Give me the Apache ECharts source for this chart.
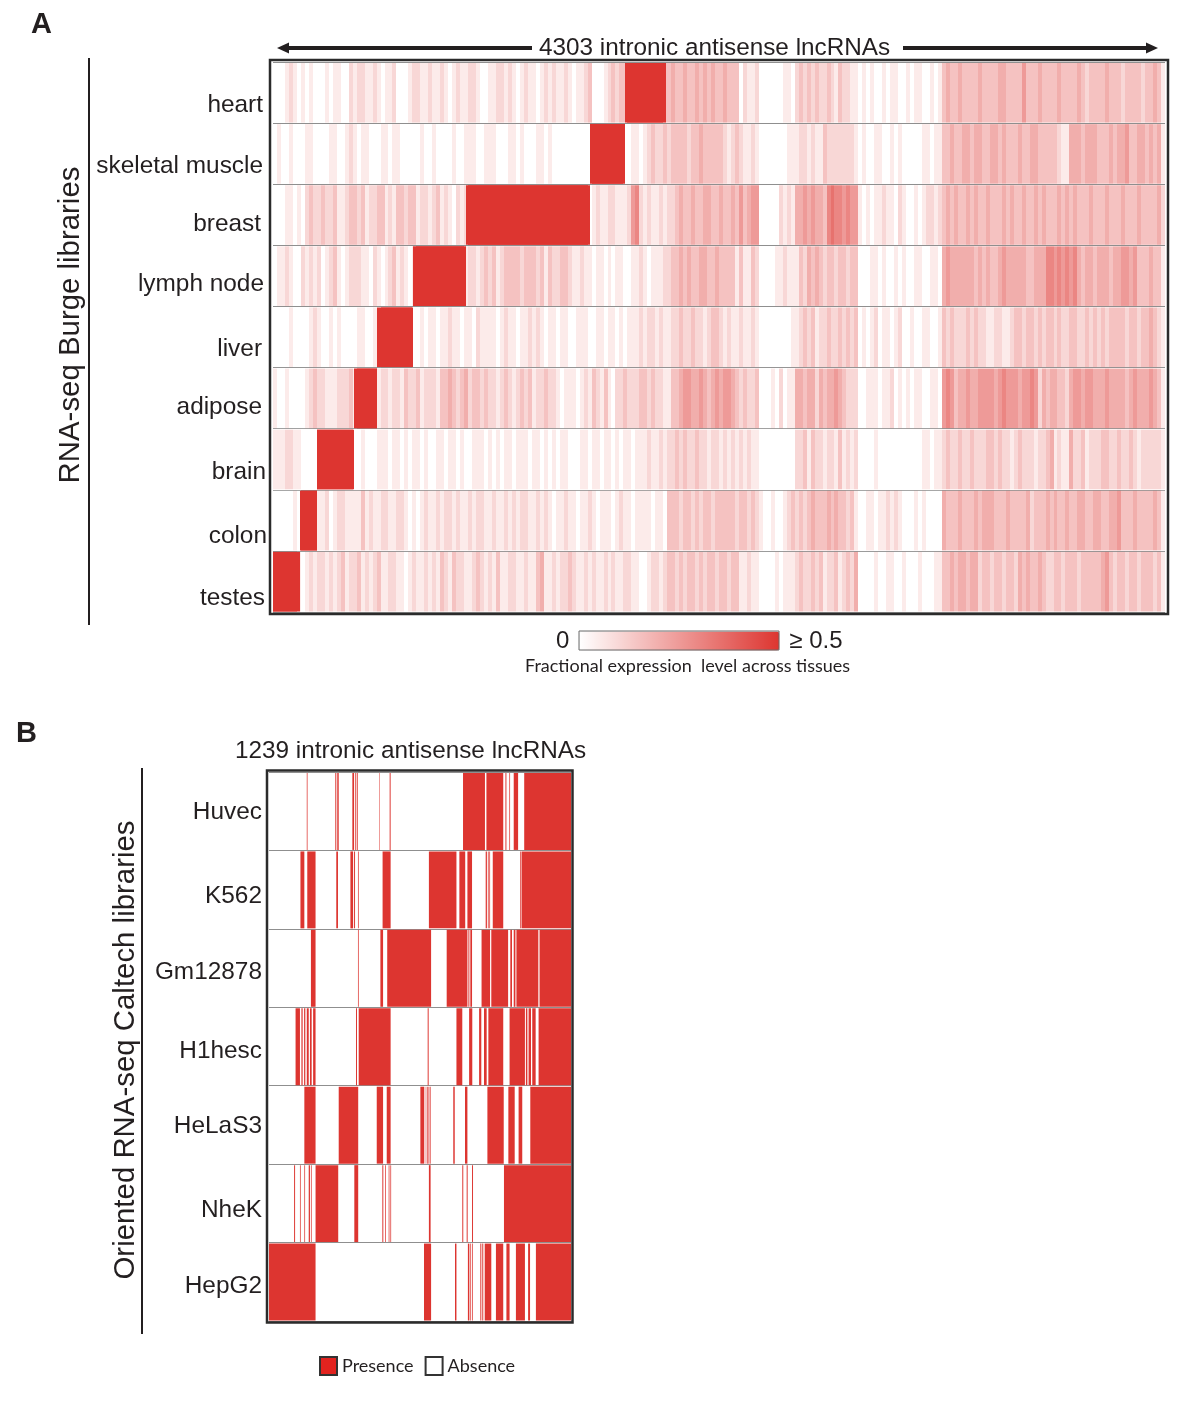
<!doctype html>
<html>
<head>
<meta charset="utf-8">
<title>Intronic antisense lncRNAs</title>
<script src="https://cdn.jsdelivr.net/npm/echarts@6/dist/echarts.min.js"></script>
<style>
body { margin: 0; background: #fff; }
#main { width: 1200px; height: 1408px; }
</style>
</head>
<body>
<div id="main"></div>
<script>
// panel A: expression level per bin, 0..10 where 10 means >= 0.5 (bins are 4303/224 lncRNAs wide)
var tissues = ['heart', 'skeletal muscle', 'breast', 'lymph node', 'liver', 'adipose', 'brain', 'colon', 'testes'];
var totalA = 4303;
var heart = [
0,0,0,1,2,1,0,1,0,1,0,0,0,1,0,1,1,0,0,2,
1,2,2,1,1,2,1,0,1,1,2,0,0,0,1,2,2,1,1,2,
1,1,2,1,0,1,2,1,1,2,2,1,0,0,1,1,2,2,1,2,
1,0,1,2,1,1,0,1,2,1,2,1,1,2,1,0,1,1,2,3,
0,0,0,1,2,3,2,3,3,10,10,10,10,10,10,10,10,10,3,3,
4,3,3,4,3,3,4,3,4,3,4,3,3,4,3,3,3,0,2,1,
1,2,0,0,0,0,0,0,1,1,0,2,3,2,3,2,3,2,2,3,
2,1,3,2,2,1,1,0,1,0,1,0,0,1,0,1,1,0,0,1,
0,1,1,0,0,1,0,1,3,4,3,3,4,3,3,3,3,4,3,3,
3,3,4,4,3,3,3,3,5,3,3,3,4,3,3,3,3,4,3,3,
3,3,4,3,2,3,3,3,3,4,3,3,3,2,3,3,3,3,2,3,
3,4,3,1];
var skeletalMuscle = [
0,1,0,0,1,0,0,0,1,1,0,0,0,0,1,1,0,0,1,2,
1,0,1,1,0,0,0,1,1,0,1,1,0,0,0,0,0,1,0,0,
1,0,0,0,0,1,0,0,1,1,1,0,0,1,1,1,0,0,0,1,
1,0,1,0,0,0,1,1,0,1,0,0,0,0,0,0,0,0,0,0,
10,10,10,10,10,10,10,10,0,0,1,1,0,1,2,3,2,2,3,2,
3,3,3,3,2,3,3,4,3,3,3,3,3,2,1,2,3,2,1,1,
2,1,0,0,0,0,0,0,0,1,1,1,2,2,1,2,1,1,3,2,
2,2,2,2,2,2,1,0,1,0,0,1,1,0,0,1,0,1,0,0,
0,0,0,1,1,0,1,1,3,3,4,3,3,4,4,3,4,4,3,3,
4,4,3,4,3,3,3,4,3,3,4,4,3,3,3,3,3,2,1,1,
4,4,4,3,4,4,4,3,3,3,4,3,4,4,5,3,3,4,4,3,
4,3,4,1];
var breast = [
0,0,0,1,1,0,1,0,2,3,2,2,3,2,2,3,1,1,2,3,
3,2,3,1,2,2,3,3,1,2,1,3,3,2,3,3,1,2,2,1,
2,3,1,2,1,0,2,1,2,10,10,10,10,10,10,10,10,10,10,10,
10,10,10,10,10,10,10,10,10,10,10,10,10,10,10,10,10,10,10,0,
1,2,1,1,2,2,1,1,1,2,5,6,2,1,2,1,1,2,1,2,
2,3,4,3,3,4,3,3,4,4,3,3,4,3,3,4,3,5,3,4,
5,5,0,0,0,0,0,2,1,2,1,4,4,5,4,5,4,4,3,6,
7,6,6,5,6,5,5,1,0,1,0,1,1,2,1,1,0,2,1,0,
0,1,0,1,2,2,1,2,3,4,3,4,3,3,4,3,4,3,3,4,
3,3,3,4,3,4,3,3,4,3,3,4,3,4,3,3,3,4,3,4,
3,4,3,3,3,4,3,3,3,4,3,3,3,4,3,3,3,4,3,3,
3,3,4,2];
var lymphNode = [
0,1,1,2,1,0,0,2,1,2,1,2,0,1,2,3,1,0,1,2,
2,2,1,1,0,2,1,0,1,2,3,1,2,1,0,1,10,10,10,10,
10,10,10,10,10,10,10,10,1,2,2,1,2,3,2,3,1,2,3,3,
3,3,2,3,3,3,2,3,1,3,2,2,3,3,2,1,1,2,1,1,
0,1,1,0,1,0,1,1,0,0,1,1,2,1,0,1,1,1,2,2,
3,3,4,3,4,3,3,4,4,3,3,4,3,3,3,3,1,3,1,1,
3,2,0,0,0,0,1,1,2,1,1,1,3,2,4,3,4,3,2,3,
3,2,3,3,2,3,3,0,0,0,1,1,0,1,0,0,1,0,1,0,
0,1,1,0,0,1,1,0,4,5,4,4,4,4,4,4,3,4,3,4,
3,3,4,5,4,4,4,4,4,3,3,4,4,4,6,6,5,6,5,6,
5,6,4,3,4,4,3,4,4,4,3,4,4,5,5,4,5,3,3,3,
4,3,3,1];
var liver = [
0,0,0,0,1,0,0,0,0,1,2,1,0,0,1,0,1,0,0,0,
0,1,1,0,0,1,0,10,10,10,10,10,10,10,10,0,0,1,0,1,
1,0,1,1,2,1,1,0,1,1,0,2,1,1,1,1,0,1,2,1,
1,0,1,1,2,1,2,1,0,1,1,0,1,1,0,0,1,1,1,0,
0,1,1,0,1,1,0,1,0,1,1,1,2,1,2,2,1,2,1,1,
2,2,3,2,2,3,2,2,1,2,3,3,2,1,2,1,1,2,1,1,
2,1,0,0,0,0,0,0,0,0,1,1,2,3,2,3,1,2,2,3,
2,2,3,2,3,2,3,0,1,0,1,2,0,1,1,0,1,2,0,0,
1,0,0,1,1,0,0,1,3,2,3,2,2,2,3,2,3,2,2,1,
1,2,2,1,1,2,3,3,2,3,3,2,3,2,3,3,2,3,2,2,
3,3,2,2,3,2,3,2,3,2,3,3,3,3,2,3,3,2,3,3,
4,3,2,1];
var adipose = [
1,0,0,1,0,0,0,0,1,2,3,2,2,1,1,1,2,2,2,3,
1,10,10,10,10,10,1,2,2,1,2,2,1,3,2,2,3,1,2,2,
2,1,3,3,4,3,2,3,4,2,3,3,2,3,2,2,1,2,3,2,
1,2,3,2,3,1,2,2,3,2,2,1,0,1,1,1,0,1,2,1,
3,2,1,3,1,0,2,2,3,2,2,2,3,3,2,3,2,2,1,1,
3,3,4,5,5,4,4,5,4,3,4,5,4,5,5,4,3,2,3,2,
2,3,0,0,0,1,0,2,0,1,1,4,4,3,4,4,2,4,3,4,
4,5,4,3,2,2,2,0,0,1,1,1,0,1,1,2,0,1,0,1,
0,1,1,0,0,1,1,0,5,6,5,3,4,4,5,4,4,5,5,5,
5,4,5,6,5,5,5,4,5,5,6,5,2,4,3,4,4,3,3,2,
4,5,5,4,5,5,4,4,4,5,4,4,4,4,3,4,5,4,4,4,
5,4,3,1];
var brain = [
1,1,1,2,2,1,1,0,0,0,0,10,10,10,10,10,10,10,10,10,
0,0,1,0,0,0,1,1,1,0,1,1,0,1,0,1,1,0,1,0,
0,1,1,0,1,1,0,1,0,0,1,1,1,0,1,0,1,0,1,1,
0,1,1,1,0,1,1,0,1,0,1,0,1,1,0,0,0,1,1,0,
1,1,0,1,1,0,1,0,1,1,0,1,1,1,2,1,1,2,1,2,
2,3,2,3,2,2,3,2,2,1,2,2,1,2,1,2,1,2,1,2,
1,1,0,0,0,0,0,0,0,0,0,2,2,3,1,3,2,2,1,2,
2,1,3,1,2,1,2,0,0,0,0,1,0,0,0,0,0,0,0,0,
0,0,0,1,1,0,1,1,2,3,2,2,3,2,2,3,2,2,2,3,
3,2,3,2,2,1,2,3,2,2,2,1,2,2,3,4,1,2,1,1,
4,2,2,3,1,2,2,2,3,3,2,2,3,2,2,3,2,1,2,2,
2,2,2,1];
var colon = [
0,0,0,0,0,1,0,10,10,10,10,1,1,2,0,1,2,2,1,1,
1,1,3,1,2,1,1,2,2,1,1,2,2,1,0,1,0,1,2,1,
1,2,1,2,2,1,2,1,1,2,1,2,2,1,1,2,1,1,2,1,
2,1,2,2,1,1,2,1,2,1,0,1,1,2,1,1,0,1,1,2,
1,0,1,1,1,0,1,2,1,1,0,1,1,1,1,0,1,1,0,3,
3,3,2,3,3,2,3,2,3,3,2,3,3,3,3,3,2,3,3,2,
3,2,1,0,0,1,0,0,1,2,3,2,3,2,3,4,3,3,3,4,
3,4,3,3,2,3,1,0,0,1,1,0,1,1,2,1,2,1,0,0,
0,1,0,1,0,0,0,0,4,3,3,3,4,3,3,3,4,3,4,4,
4,3,3,3,4,3,3,3,3,4,2,3,3,3,4,3,4,3,3,4,
3,3,4,4,3,3,4,4,3,3,4,4,5,3,3,3,4,3,3,3,
3,4,3,1];
var testes = [
10,10,10,10,10,10,1,0,1,2,1,2,2,1,2,1,2,3,1,2,
2,3,1,2,1,2,3,1,1,2,2,1,1,0,1,2,1,1,2,1,
2,1,3,2,1,3,2,2,1,1,2,3,2,1,2,1,3,1,1,2,
2,1,1,2,1,1,3,4,1,1,2,1,2,2,3,2,1,1,2,1,
2,1,1,2,1,2,1,1,2,2,1,1,0,0,1,2,2,1,2,3,
3,2,3,2,3,3,2,3,2,3,3,2,3,3,2,3,3,1,1,2,
1,1,0,0,0,0,1,0,1,1,1,2,3,2,2,3,2,3,1,2,
2,3,1,2,3,2,4,0,0,0,0,1,0,0,1,1,0,0,1,0,
0,0,1,0,0,0,1,1,3,3,4,3,4,4,3,4,4,2,3,3,
2,3,3,2,3,3,2,4,3,4,3,3,4,3,2,2,3,3,2,3,
3,3,2,3,3,3,3,3,4,5,3,2,3,3,2,3,3,2,3,3,
3,2,3,1];
var tissueLevels = [heart, skeletalMuscle, breast, lymphNode, liver, adipose, brain, colon, testes];
// range of lncRNAs specific to each tissue (the red staircase)
var tissuePeaks = [[1698, 1896], [1529, 1698], [931, 1529], [675, 931], [502, 675], [391, 502], [212, 391], [130, 212], [0, 130]];

// panel B: stretches of lncRNAs present in each cell line
var cellLines = ['Huvec', 'K562', 'Gm12878', 'H1hesc', 'HeLaS3', 'NheK', 'HepG2'];
var totalB = 1239;
var huvec = [[155,158],[272,276],[279,282],[283,286],[342,349],[354,357],[360,364],[453,455],[495,499],[796,886],[892,961],[970,974],[986,989],[1004,1022],[1047,1239]];
var k562 = [[129,145],[157,191],[276,283],[334,345],[349,353],[365,368],[466,499],[656,769],[781,805],[814,833],[889,894],[898,901],[904,907],[918,961],[1030,1033],[1036,1239]];
var gm12878 = [[172,191],[365,368],[457,468],[485,665],[729,814],[818,822],[826,833],[872,907],[912,981],[990,997],[1004,1011],[1015,1105],[1110,1239]];
var h1hesc = [[109,127],[133,138],[144,149],[155,163],[168,175],[181,191],[357,361],[368,499],[651,655],[769,793],[821,834],[862,871],[882,893],[900,961],[987,1050],[1054,1060],[1065,1075],[1080,1094],[1106,1239]];
var helas3 = [[145,191],[286,366],[442,468],[483,499],[621,637],[643,645],[648,651],[654,656],[659,663],[756,762],[804,814],[896,963],[982,1008],[1024,1039],[1072,1239]];
var nhek = [[103,107],[127,130],[145,148],[163,168],[172,175],[191,284],[350,366],[465,469],[477,480],[491,494],[498,501],[656,663],[793,797],[811,815],[833,837],[964,1239]];
var hepg2 = [[0,191],[636,665],[763,769],[816,822],[826,829],[833,836],[867,871],[875,879],[885,912],[931,961],[974,987],[1013,1050],[1063,1071],[1095,1239]];
var cellPresence = [huvec, k562, gm12878, h1hesc, helas3, nhek, hepg2];

var sans = '"Liberation Sans", Arial, sans-serif';
var ink = '#231f20';
var red = '#dd3530';

// label nudges, [down, left] px, the source figure has them placed by hand
var tissueNudge = [[13,9],[13,9],[10,11],[8,8],[12,10],[9,10],[13,6],[16,5],[17,7]];
var cellNudge = [[1,0],[7,0],[4,0],[5,0],[1,0],[7,0],[4,0]];

var heatData = [];
var step = totalA / 224;
tissueLevels.forEach(function (levels, r) {
    levels.forEach(function (v, i) {
        heatData.push([i * step, (i + 1) * step, r, v]);
    });
    heatData.push([tissuePeaks[r][0], tissuePeaks[r][1], r, 10]);
});

var presenceData = [];
cellPresence.forEach(function (runs, r) {
    runs.forEach(function (run) {
        presenceData.push([run[0], run[1], r]);
    });
});

function renderHeat(params, api) {
    var a = api.coord([api.value(0), api.value(2)]);
    var b = api.coord([api.value(1), api.value(2)]);
    var h = api.size([0, 1])[1];
    var x0 = Math.round(a[0]), x1 = Math.round(b[0]);
    return {
        type: 'rect',
        shape: { x: x0, y: a[1] - h / 2 + 1, width: x1 - x0, height: h - 1.5 },
        style: { fill: api.visual('color') }
    };
}

function renderPresence(params, api) {
    var a = api.coord([api.value(0), api.value(2)]);
    var b = api.coord([api.value(1), api.value(2)]);
    var h = api.size([0, 1])[1];
    return {
        type: 'rect',
        shape: { x: a[0], y: a[1] - h / 2 + 1, width: b[0] - a[0], height: h - 1.5 },
        style: { fill: red }
    };
}

function bandAxis(gridIndex, names, nudge, name, nameGap, namePadding, margin) {
    return {
        type: 'category',
        gridIndex: gridIndex,
        inverse: true,
        data: names.map(function (n, i) {
            var d = nudge[i][0];
            return {
                value: n,
                textStyle: {
                    verticalAlign: d >= 0 ? 'top' : 'bottom',
                    lineHeight: 2 * Math.abs(d),
                    padding: [0, nudge[i][1], 0, 0]
                }
            };
        }),
        axisLine: { show: false },
        axisTick: { show: false },
        axisLabel: { margin: margin, fontFamily: sans, fontSize: 24.4, color: ink },
        splitLine: { show: true, lineStyle: { color: '#8f8f8f', width: 1 } },
        name: name,
        nameLocation: 'middle',
        nameRotate: 90,
        nameGap: nameGap,
        nameTextStyle: { fontFamily: sans, fontSize: 29.4, color: ink, padding: namePadding }
    };
}

function arrow(x0, x1, y, dir) {
    var tip = dir < 0 ? x0 : x1;
    return [
        { type: 'line', shape: { x1: x0 + (dir < 0 ? 8 : 0), y1: y, x2: x1 - (dir > 0 ? 8 : 0), y2: y }, style: { stroke: ink, lineWidth: 4 } },
        { type: 'polygon', shape: { points: [[tip, y], [tip - dir * 12, y - 5.5], [tip - dir * 12, y + 5.5]] }, style: { fill: ink } }
    ];
}

var chart = echarts.init(document.getElementById('main'));
chart.setOption({
    animation: false,
    backgroundColor: '#fff',
    title: [
        { text: 'A', left: 26, top: 5, textStyle: { fontFamily: sans, fontSize: 29, fontWeight: 'bold', color: ink } },
        { text: 'B', left: 11, top: 714, textStyle: { fontFamily: sans, fontSize: 29, fontWeight: 'bold', color: ink } },
        { text: '4303 intronic antisense lncRNAs', left: 534, top: 31, textStyle: { fontFamily: sans, fontSize: 24.3, fontWeight: 'normal', color: ink } },
        { text: '1239 intronic antisense lncRNAs', left: 230, top: 734, textStyle: { fontFamily: sans, fontSize: 24.3, fontWeight: 'normal', color: ink } },
        { text: 'Fractional expression  level across tissues', left: 520, top: 652, textStyle: { fontFamily: 'Lato', fontSize: 18, fontWeight: 'normal', color: ink } }
    ],
    grid: [
        { left: 273, top: 62, width: 892, height: 550 },
        { left: 269, top: 772, width: 302, height: 549 }
    ],
    xAxis: [
        { type: 'value', gridIndex: 0, min: 0, max: totalA, show: false },
        { type: 'value', gridIndex: 1, min: 0, max: totalB, show: false }
    ],
    yAxis: [
        bandAxis(0, tissues, tissueNudge, 'RNA-seq Burge libraries', 184, [0, 0, 0, 24], 1),
        bandAxis(1, cellLines, cellNudge, 'Oriented RNA-seq Caltech libraries', 129, [0, 7, 0, 0], 7)
    ],
    visualMap: {
        type: 'continuous',
        seriesIndex: 0,
        dimension: 3,
        min: 0,
        max: 10,
        orient: 'horizontal',
        left: 541,
        top: 614,
        itemWidth: 19,
        itemHeight: 200,
        textGap: 10,
        text: ['\u2265 0.5', '0'],
        textStyle: { fontFamily: sans, fontSize: 24, color: ink },
        inRange: { color: ['#ffffff', red] },
        hoverLink: false
    },
    legend: {
        left: 314,
        top: 1351,
        itemWidth: 17,
        itemHeight: 18,
        itemGap: 11,
        icon: 'rect',
        textStyle: { fontFamily: 'Lato', fontSize: 18, color: ink },
        data: [
            { name: 'Presence', itemStyle: { color: '#e2231f', borderColor: '#333', borderWidth: 2 } },
            { name: 'Absence', itemStyle: { color: '#fff', borderColor: '#333', borderWidth: 2 } }
        ]
    },
    graphic: [
        { type: 'rect', shape: { x: 270, y: 60, width: 898, height: 554 }, style: { fill: 'none', stroke: '#2b2b2b', lineWidth: 2.5 }, z: 10 },
        { type: 'rect', shape: { x: 267, y: 770.5, width: 305.5, height: 552 }, style: { fill: 'none', stroke: '#2b2b2b', lineWidth: 2.5 }, z: 10 },
        { type: 'rect', shape: { x: 579, y: 631, width: 200, height: 19 }, style: { fill: 'none', stroke: '#6b6b6b', lineWidth: 1 }, z: 10 },
        { type: 'line', shape: { x1: 89, y1: 58, x2: 89, y2: 625 }, style: { stroke: ink, lineWidth: 2 } },
        { type: 'line', shape: { x1: 142, y1: 768, x2: 142, y2: 1334 }, style: { stroke: ink, lineWidth: 2 } }
    ].concat(arrow(277, 532, 48, -1), arrow(903, 1158, 48, 1)),
    series: [
        {
            type: 'custom',
            name: 'Fractional expression',
            coordinateSystem: 'cartesian2d',
            xAxisIndex: 0,
            yAxisIndex: 0,
            renderItem: renderHeat,
            encode: { x: [0, 1], y: 2 },
            progressive: 0,
            silent: true,
            data: heatData
        },
        {
            type: 'custom',
            name: 'Presence',
            coordinateSystem: 'cartesian2d',
            xAxisIndex: 1,
            yAxisIndex: 1,
            renderItem: renderPresence,
            encode: { x: [0, 1], y: 2 },
            itemStyle: { color: '#e2231f' },
            silent: true,
            data: presenceData
        },
        {
            type: 'custom',
            name: 'Absence',
            coordinateSystem: 'cartesian2d',
            xAxisIndex: 1,
            yAxisIndex: 1,
            renderItem: renderPresence,
            itemStyle: { color: '#fff' },
            silent: true,
            data: []
        }
    ]
});
</script>
</body>
</html>
